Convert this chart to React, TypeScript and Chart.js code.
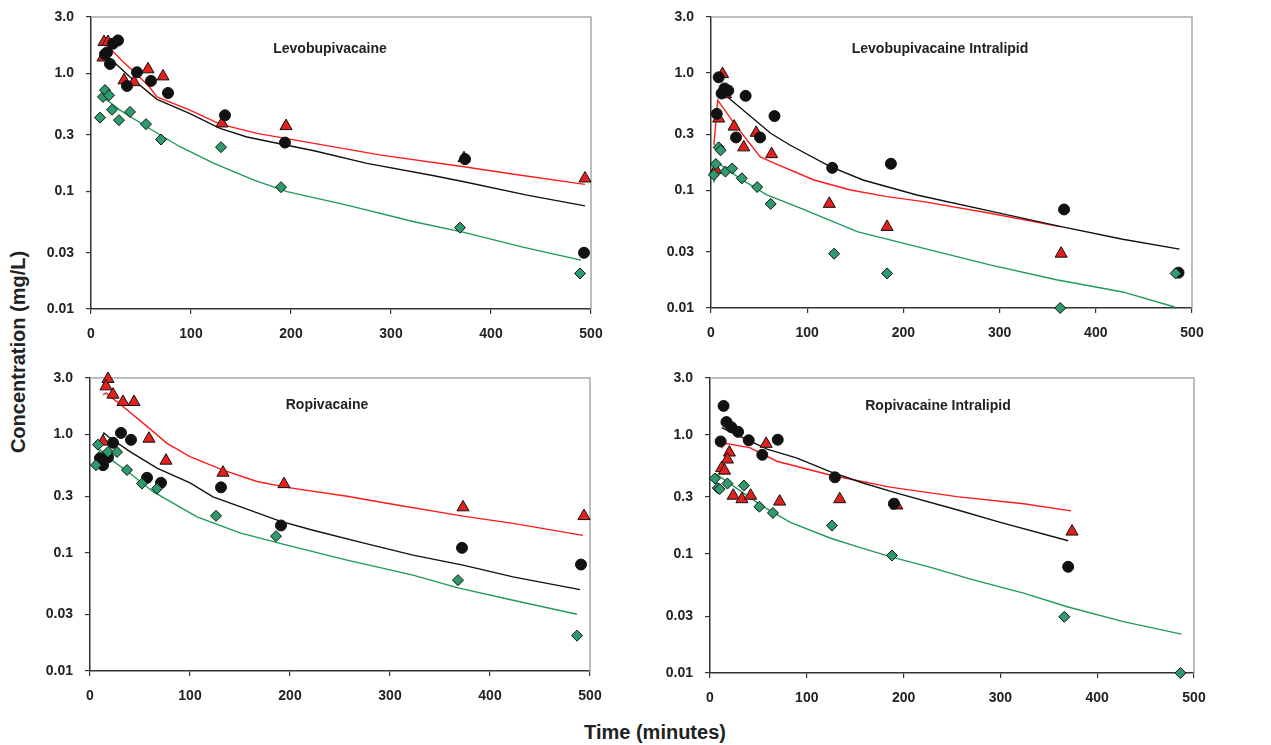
import React, { useEffect, useRef } from "react";
import Chart from "chart.js/auto";

// ---------- data ----------
const yTickValues = [0.01, 0.03, 0.1, 0.3, 1, 3];
const yTickLabels = ["0.01", "0.03", "0.1", "0.3", "1.0", "3.0"];
const xTickValues = [0, 100, 200, 300, 400, 500];
const xTickLabels = ["0", "100", "200", "300", "400", "500"];

const panelTitles = [
  "Levobupivacaine",
  "Levobupivacaine Intralipid",
  "Ropivacaine",
  "Ropivacaine Intralipid",
];

// Levobupivacaine
const levoBlackPts = [[14,1.45],[16,1.5],[19,1.2],[22,1.78],[27,1.9],[36,0.78],[46,1.02],[60,0.86],[77,0.68],[134,0.44],[194,0.258],[374,0.187],[493,0.03]];
const levoRedPts = [[13,1.84],[17,1.84],[12,1.36],[33,0.87],[43,0.84],[57,1.08],[72,0.94],[131,0.375],[195,0.356],[373,0.19],[494,0.128]];
const levoGreenPts = [[9,0.42],[12,0.63],[14,0.72],[18,0.65],[21,0.49],[28,0.4],[39,0.47],[55,0.37],[70,0.274],[130,0.236],[190,0.108],[369,0.049],[489,0.02]];
const levoRedFit = [[16,1.73],[30,1.3],[43,1.03],[57,0.79],[66,0.63],[99,0.487],[129,0.37],[166,0.309],[223,0.254],[290,0.202],[373,0.161],[423,0.139],[494,0.114]];
const levoBlackFit = [[18,1.36],[39,0.93],[66,0.6],[99,0.455],[129,0.34],[156,0.288],[196,0.245],[223,0.22],[276,0.172],[343,0.135],[373,0.12],[436,0.0925],[494,0.075]];
const levoGreenFit = [[14,0.61],[29,0.487],[56,0.35],[89,0.238],[123,0.172],[163,0.124],[196,0.099],[256,0.076],[323,0.055],[373,0.0447],[433,0.0333],[490,0.026]];

// Levobupivacaine Intralipid
const levoIlBlackPts = [[8,0.92],[6,0.45],[11,0.67],[14,0.74],[18,0.71],[36,0.64],[26,0.283],[51,0.283],[66,0.43],[126,0.156],[187,0.169],[367,0.069],[486,0.02]];
const levoIlRedPts = [[12,0.98],[15,0.66],[8,0.41],[5,0.15],[24,0.35],[47,0.31],[34,0.233],[63,0.204],[123,0.077],[183,0.049],[364,0.029]];
const levoIlGreenPts = [[3,0.136],[5,0.168],[8,0.233],[10,0.22],[15,0.145],[22,0.154],[32,0.127],[48,0.107],[62,0.077],[128,0.029],[183,0.0197],[363,0.01],[483,0.0197]];
const levoIlBlackFit = [[11,0.69],[62,0.307],[82,0.244],[124,0.16],[158,0.123],[214,0.0917],[300,0.0642],[364,0.0493],[428,0.0385],[487,0.0317]];
const levoIlRedFit = [[3,0.244],[7,0.588],[24,0.373],[51,0.194],[62,0.176],[107,0.123],[145,0.101],[183,0.0887],[221,0.0804],[290,0.064],[364,0.049]];
const levoIlGreenFit = [[3,0.117],[8,0.17],[30,0.127],[58,0.0917],[93,0.0707],[152,0.0447],[214,0.0333],[290,0.0233],[359,0.0174],[428,0.0137],[482,0.0102]];

// Ropivacaine
const ropiBlackPts = [[10,0.63],[13,0.55],[15,0.64],[18,0.64],[23,0.85],[31,1.03],[41,0.9],[57,0.43],[71,0.39],[131,0.357],[191,0.17],[372,0.11],[491,0.0795]];
const ropiRedPts = [[18,2.94],[16,2.55],[23,2.17],[33,1.88],[44,1.88],[13,0.87],[59,0.92],[76,0.6],[133,0.475],[194,0.38],[373,0.242],[494,0.204]];
const ropiGreenPts = [[8,0.82],[6,0.55],[18,0.71],[27,0.71],[37,0.5],[52,0.384],[67,0.348],[126,0.205],[186,0.138],[368,0.0586],[487,0.0199]];
const ropiRedFit = [[13,2.17],[16,2.24],[18,2.17],[33,1.72],[57,1.17],[77,0.84],[100,0.65],[133,0.5],[167,0.4],[197,0.357],[257,0.3],[307,0.253],[373,0.204],[423,0.177],[493,0.14]];
const ropiBlackFit = [[12,0.9],[14,1.03],[18,0.96],[40,0.716],[67,0.52],[100,0.39],[123,0.297],[150,0.245],[190,0.185],[223,0.155],[273,0.121],[323,0.0955],[373,0.0786],[423,0.0625],[490,0.0488]];
const ropiGreenFit = [[8,0.67],[10,0.74],[13,0.71],[18,0.64],[40,0.47],[63,0.328],[107,0.201],[150,0.147],[190,0.12],[257,0.0866],[323,0.0646],[368,0.0504],[423,0.0396],[487,0.0302]];

// Ropivacaine Intralipid
const ropiIlBlackPts = [[14,1.75],[17,1.28],[22,1.16],[29,1.06],[11,0.88],[40,0.9],[54,0.68],[70,0.91],[129,0.44],[190,0.264],[370,0.078]];
const ropiIlRedPts = [[58,0.84],[20,0.71],[18,0.62],[12,0.525],[15,0.5],[24,0.308],[33,0.288],[42,0.308],[72,0.275],[134,0.288],[193,0.255],[374,0.154]];
const ropiIlGreenPts = [[5,0.43],[8,0.357],[10,0.35],[18,0.39],[35,0.375],[51,0.249],[65,0.221],[126,0.173],[188,0.097],[366,0.0296],[486,0.01]];
const ropiIlBlackFit = [[12,1.15],[59,0.758],[90,0.638],[124,0.49],[158,0.394],[193,0.324],[255,0.235],[300,0.184],[370,0.129]];
const ropiIlRedFit = [[12,0.77],[14,0.853],[41,0.78],[69,0.6],[124,0.46],[186,0.364],[255,0.303],[324,0.264],[373,0.23]];
const ropiIlGreenFit = [[6,0.47],[31,0.34],[52,0.258],[83,0.184],[124,0.136],[152,0.115],[186,0.095],[227,0.0775],[272,0.0605],[324,0.0468],[369,0.036],[427,0.027],[487,0.0212]];

// ---------- styles ----------
const FONT = "'Liberation Sans', Arial, Helvetica, sans-serif";
const TEXT = "#222222";
const RED_LINE = "#ff1a1a";
const GREEN_LINE = "#1f9a5a";
const BLACK_LINE = "#111111";
const RED_FILL = "#e3201b";
const GREEN_FILL = "#2e9b6e";

const PANEL_SETS = [
  { black: levoBlackPts, red: levoRedPts, green: levoGreenPts, bFit: levoBlackFit, rFit: levoRedFit, gFit: levoGreenFit },
  { black: levoIlBlackPts, red: levoIlRedPts, green: levoIlGreenPts, bFit: levoIlBlackFit, rFit: levoIlRedFit, gFit: levoIlGreenFit },
  { black: ropiBlackPts, red: ropiRedPts, green: ropiGreenPts, bFit: ropiBlackFit, rFit: ropiRedFit, gFit: ropiGreenFit },
  { black: ropiIlBlackPts, red: ropiIlRedPts, green: ropiIlGreenPts, bFit: ropiIlBlackFit, rFit: ropiIlRedFit, gFit: ropiIlGreenFit },
];

// chart area rectangles on the page (left, top, right, bottom)
const PANEL_AREAS = [
  [91, 17, 591, 309],
  [711, 17, 1192, 308],
  [90, 378, 590, 671],
  [710, 378, 1194, 673],
];
const TITLE_POS = [
  [330, 48],
  [940, 48],
  [327, 404],
  [938, 405],
];

const PAD_L = 60;
const PAD_T = 16;
const PAD_R = 20;
const PAD_B = 35;

const toXY = (arr: number[][]) => arr.map(([x, y]) => ({ x, y }));

const framePlugin = {
  id: "frame",
  beforeDatasetsDraw(chart: any) {
    const { ctx, chartArea } = chart;
    ctx.save();
    ctx.strokeStyle = "#a8a8a8";
    ctx.lineWidth = 1.5;
    ctx.beginPath();
    ctx.moveTo(chartArea.left, chartArea.top);
    ctx.lineTo(chartArea.right, chartArea.top);
    ctx.lineTo(chartArea.right, chartArea.bottom);
    ctx.stroke();
    ctx.restore();
  },
};

function Panel({ idx }: { idx: number }) {
  const ref = useRef<HTMLCanvasElement | null>(null);
  const [L, T, R, B] = PANEL_AREAS[idx];
  const w = R - L + PAD_L + PAD_R;
  const h = B - T + PAD_T + PAD_B;

  useEffect(() => {
    if (!ref.current) return;
    const s = PANEL_SETS[idx];
    const lineDs = (data: number[][], color: string) => ({
      type: "line" as const,
      data: toXY(data),
      borderColor: color,
      borderWidth: 1.4,
      pointRadius: 0,
      fill: false,
      tension: 0,
      order: 2,
    });
    const ptDs = (data: number[][], style: string, fill: string, r: number) => ({
      type: "scatter" as const,
      data: toXY(data),
      pointStyle: style,
      pointRadius: r,
      pointBackgroundColor: fill,
      pointBorderColor: "#111111",
      pointBorderWidth: 1,
      showLine: false,
      clip: false as any,
      order: 1,
    });
    const chart = new Chart(ref.current, {
      type: "scatter",
      data: {
        datasets: [
          lineDs(s.gFit, GREEN_LINE),
          lineDs(s.bFit, BLACK_LINE),
          lineDs(s.rFit, RED_LINE),
          ptDs(s.green, "rectRot", GREEN_FILL, 5.5),
          ptDs(s.black, "circle", "#111111", 5.5),
          ptDs(s.red, "triangle", RED_FILL, 7),
        ] as any,
      },
      options: {
        responsive: false,
        animation: false,
        events: [],
        layout: { autoPadding: false, padding: { left: 0, top: PAD_T, right: PAD_R, bottom: 0 } },
        plugins: { legend: { display: false }, tooltip: { enabled: false }, title: { display: false } },
        scales: {
          x: {
            type: "linear",
            min: 0,
            max: 500,
            afterFit: (sc: any) => {
              sc.height = PAD_B;
              sc.paddingLeft = 0;
              sc.paddingRight = 0;
            },
            afterBuildTicks: (sc: any) => { sc.ticks = xTickValues.map((v) => ({ value: v })); },
            ticks: {
              padding: 12,
              color: TEXT,
              font: { family: FONT, size: 14, weight: "bold" },
              callback: (v: any) => xTickLabels[xTickValues.indexOf(Number(v))] ?? "",
              maxRotation: 0,
            },
            grid: { drawOnChartArea: false, drawTicks: true, tickLength: 5, color: "#333333", lineWidth: 1.2 },
            border: { display: true, color: "#333333", width: 1.5 },
          },
          y: {
            type: "logarithmic",
            min: 0.01,
            max: 3,
            afterFit: (sc: any) => {
              sc.width = PAD_L;
              sc.paddingTop = 0;
              sc.paddingBottom = 0;
            },
            afterBuildTicks: (sc: any) => { sc.ticks = yTickValues.map((v) => ({ value: v })); },
            ticks: {
              padding: 12,
              color: TEXT,
              font: { family: FONT, size: 14, weight: "bold" },
              callback: (v: any) => {
                const i = yTickValues.findIndex((t) => Math.abs(t - Number(v)) < 1e-9);
                return i >= 0 ? yTickLabels[i] : "";
              },
            },
            grid: { drawOnChartArea: false, drawTicks: true, tickLength: 5, color: "#333333", lineWidth: 1.2 },
            border: { display: true, color: "#333333", width: 1.5 },
          },
        },
      } as any,
      plugins: [framePlugin],
    });
    return () => chart.destroy();
  }, [idx]);

  return (
    <canvas
      ref={ref}
      width={w}
      height={h}
      style={{ position: "absolute", left: L - PAD_L, top: T - PAD_T, width: w, height: h }}
    />
  );
}

export default function App() {
  return (
    <div style={{ position: "absolute", left: 0, top: 0, width: 1271, height: 745, background: "#ffffff", fontFamily: FONT }}>
      {[0, 1, 2, 3].map((i) => (
        <Panel key={i} idx={i} />
      ))}
      {panelTitles.map((t, i) => (
        <div
          key={t}
          style={{
            position: "absolute",
            left: TITLE_POS[i][0],
            top: TITLE_POS[i][1],
            transform: "translate(-50%, -50%)",
            fontSize: 14,
            fontWeight: "bold",
            color: TEXT,
            whiteSpace: "nowrap",
          }}
        >
          {t}
        </div>
      ))}
      <div
        style={{
          position: "absolute",
          left: 655,
          top: 732,
          transform: "translate(-50%, -50%)",
          fontSize: 20,
          fontWeight: "bold",
          color: TEXT,
          whiteSpace: "nowrap",
        }}
      >
        Time (minutes)
      </div>
      <div
        style={{
          position: "absolute",
          left: 18,
          top: 352,
          transform: "translate(-50%, -50%) rotate(-90deg)",
          fontSize: 20,
          fontWeight: "bold",
          color: TEXT,
          whiteSpace: "nowrap",
        }}
      >
        Concentration (mg/L)
      </div>
    </div>
  );
}
